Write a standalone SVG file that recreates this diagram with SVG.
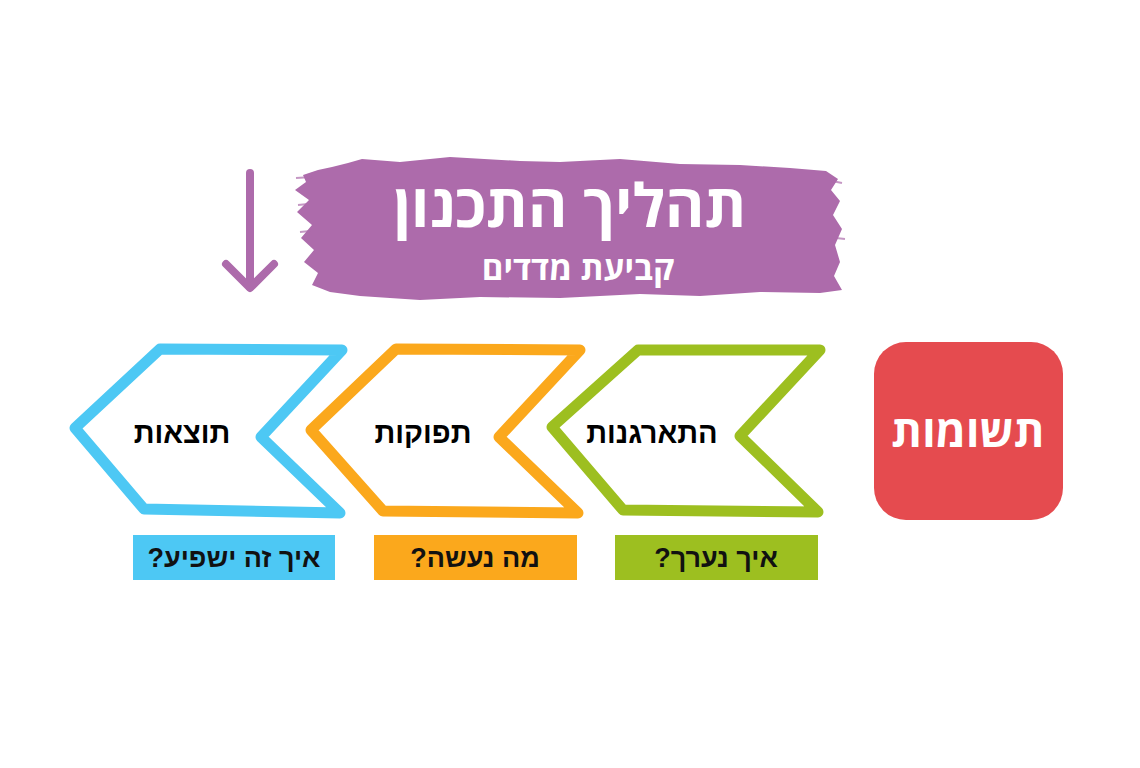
<svg xmlns="http://www.w3.org/2000/svg" width="1140" height="768" viewBox="0 0 1140 768">
<style>
.chev{fill:#fff;stroke-width:11;stroke-linejoin:round;stroke-linecap:round}
.ct{font-family:"Liberation Sans","DejaVu Sans",sans-serif;font-weight:bold;font-size:29px;fill:#000;text-anchor:middle}
.lt{font-family:"Liberation Sans","DejaVu Sans",sans-serif;font-weight:bold;font-size:27px;fill:#111;text-anchor:middle}
.wt{font-family:"Open Sans","Noto Sans","DejaVu Sans",sans-serif;fill:#fff;text-anchor:middle;font-weight:bold}
</style>
<rect width="1140" height="768" fill="#fff"/>
<g id="header">
<path fill="#AD6BAB" d="M303,175 L318,170 L332,167 L348,163 L362,159 L400,162 L450,157 L520,161 L560,162 L620,159 L680,164 L740,165 L790,168 L826,171 L838,179 L831,190 L840,201 L833,215 L842,229 L835,245 L840,262 L834,276 L842,290 L820,293 L760,292 L700,296 L640,294 L560,298 L480,297 L420,300 L360,296 L330,292 L312,285 L318,273 L304,262 L314,250 L301,238 L312,225 L297,212 L309,200 L295,190 L306,182 Z"/>
<path stroke="#AD6BAB" stroke-width="2" fill="none" opacity="0.7" d="M296,178 L312,177 M298,205 L308,204 M300,232 L310,231 M832,181 L842,183 M836,238 L845,239"/>
<text class="wt" x="570" y="227" font-size="60" direction="rtl">תהליך התכנון</text>
<text class="wt" x="578" y="280" font-size="33" direction="rtl">קביעת מדדים</text>
</g>
<g id="arrow" stroke="#AD6BAB" stroke-width="8" stroke-linecap="round" stroke-linejoin="round" fill="none">
<path d="M250,173 L250,287"/>
<path d="M226,264 L250,288 L274,264"/>
</g>
<g id="node-results">
<path class="chev" stroke="#4DC8F4" d="M160,349 L342,350 L261,437 L340,513 L144,509 L75,428 Z"/>
<text class="ct" x="182" y="443" direction="rtl">תוצאות</text>
</g>
<g id="node-outputs">
<path class="chev" stroke="#FBA81C" d="M396,349 L580,350 L499,437 L578,513 L383,511 L311,430 Z"/>
<text class="ct" x="423" y="443" direction="rtl">תפוקות</text>
</g>
<g id="node-activities">
<path class="chev" stroke="#9DBF20" d="M638,350 L820,350 L740,436 L818,512 L623,510 L552,427 Z"/>
<text class="ct" x="652" y="443" direction="rtl">התארגנות</text>
</g>
<g id="node-inputs">
<rect x="874" y="342" width="189" height="178" rx="32" fill="#E54B4F"/>
<text class="wt" x="968" y="447" font-size="44" direction="rtl">תשומות</text>
</g>
<g id="label-results">
<rect x="133" y="535" width="202" height="45" fill="#4DC8F4"/>
<text class="lt" x="234" y="567" direction="rtl">איך זה ישפיע?</text>
</g>
<g id="label-outputs">
<rect x="374" y="535" width="203" height="45" fill="#FBA81C"/>
<text class="lt" x="475" y="567" direction="rtl">מה נעשה?</text>
</g>
<g id="label-activities">
<rect x="615" y="535" width="203" height="45" fill="#9DBF20"/>
<text class="lt" x="716" y="567" direction="rtl">איך נערך?</text>
</g>
</svg>
